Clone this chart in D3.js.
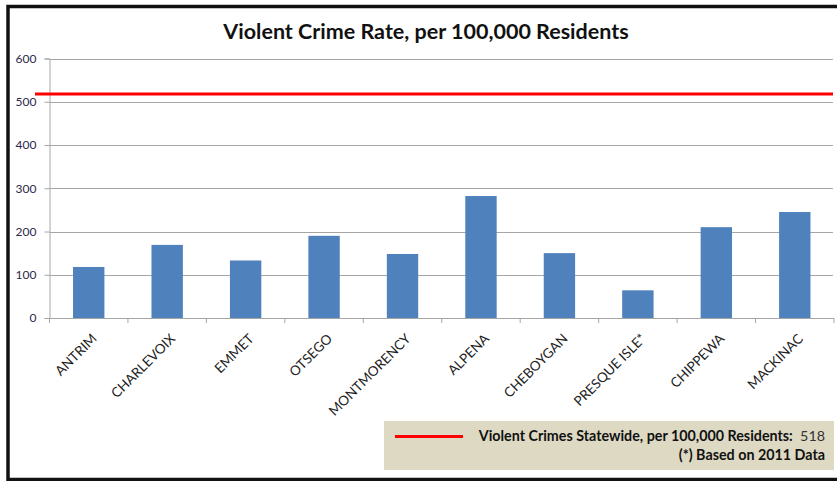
<!DOCTYPE html>
<html><head><meta charset="utf-8">
<script src="https://cdn.jsdelivr.net/npm/d3@7"></script>
<style>body{margin:0;background:#fff}svg{display:block}</style>
</head><body>
<svg id="c" width="837" height="481"></svg>
<script>
const categories = ["ANTRIM","CHARLEVOIX","EMMET","OTSEGO","MONTMORENCY","ALPENA","CHEBOYGAN","PRESQUE ISLE*","CHIPPEWA","MACKINAC"];
const crimeRates = [118, 169, 133, 190, 148, 282, 150, 64, 210, 245];
const statewideRate = [518];
const yTicks = [0, 100, 200, 300, 400, 500, 600];
const titleText = "Violent Crime Rate, per 100,000 Residents";
const legendLines = ["Violent Crimes Statewide, per 100,000 Residents:", "518", "(*) Based on 2011 Data"];

(function () {
const svg = d3.select("#c");
const font = "Lato, 'Open Sans', sans-serif";
const pLeft = 49.5, pRight = 834, pTop = 58.5, pBottom = 318;

// outer border
svg.append("rect").attr("x", 8).attr("y", 6.5).attr("width", 860).attr("height", 473)
  .attr("fill", "#fff").attr("stroke", "#111").attr("stroke-width", 3.5);

const x = d3.scaleBand().domain(categories).range([pLeft, pRight]).paddingInner(0.6).paddingOuter(0.3);
const xb = d3.scaleBand().domain(categories).range([pLeft, pRight]);
const y = d3.scaleLinear().domain([0, 600]).range([pBottom, pTop]);

// gridlines
svg.append("g").selectAll("line").data(yTicks.filter(d => d > 0)).join("line")
  .attr("x1", pLeft).attr("x2", pRight - 1).attr("y1", d => Math.round(y(d)) + 0.5).attr("y2", d => Math.round(y(d)) + 0.5)
  .attr("stroke", "#a6a6a6").attr("stroke-width", 1);

// y axis
const yAxis = svg.append("g").attr("transform", `translate(${pLeft},0)`)
  .call(d3.axisLeft(y).tickValues(yTicks).tickSize(5).tickPadding(8));
yAxis.select(".domain").attr("stroke", "#a6a6a6");
yAxis.selectAll(".tick line").attr("stroke", "#a6a6a6");
yAxis.selectAll(".tick text").attr("font-family", font).attr("font-size", 12).attr("fill", "#2a2a4a");

// bars
svg.append("g").selectAll("rect").data(categories).join("rect")
  .attr("x", d => x(d)).attr("width", x.bandwidth())
  .attr("y", (d, i) => y(crimeRates[i])).attr("height", (d, i) => y(0) - y(crimeRates[i]))
  .attr("fill", "#4f81bd");

// x axis
const xAxisG = svg.append("g").attr("transform", `translate(0,${pBottom})`);
xAxisG.append("line").attr("x1", pLeft).attr("x2", pRight).attr("y1", 0.5).attr("y2", 0.5).attr("stroke", "#a6a6a6");
const bounds = categories.map(c => xb(c)).concat([pRight]);
xAxisG.selectAll("line.t").data(bounds).join("line").attr("class", "t")
  .attr("x1", d => d).attr("x2", d => d).attr("y1", 0).attr("y2", 5).attr("stroke", "#a6a6a6");
xAxisG.selectAll("text").data(categories).join("text")
  .attr("transform", d => `translate(${xb(d) + xb.bandwidth() / 2 + 9},${21.5}) rotate(-45)`)
  .attr("text-anchor", "end").attr("font-family", font).attr("font-size", 13.5).attr("fill", "#222")
  .text(d => d);

// statewide line
svg.append("line").attr("x1", 35).attr("x2", pRight - 1)
  .attr("y1", y(statewideRate[0])).attr("y2", y(statewideRate[0]))
  .attr("stroke", "#ff0000").attr("stroke-width", 3);

// title
svg.append("text").attr("x", 426).attr("y", 39).attr("text-anchor", "middle")
  .attr("font-family", font).attr("font-weight", "bold").attr("font-size", 21.5).attr("fill", "#111")
  .text(titleText);

// legend box
const lg = svg.append("g");
lg.append("rect").attr("x", 384).attr("y", 421).attr("width", 450).attr("height", 49).attr("fill", "#ddd9c3");
lg.append("line").attr("x1", 395).attr("x2", 463).attr("y1", 436.5).attr("y2", 436.5).attr("stroke", "#ff0000").attr("stroke-width", 3);
const t1 = lg.append("text").attr("x", 825).attr("y", 441).attr("text-anchor", "end")
  .attr("font-family", font).attr("font-size", 14.3).attr("fill", "#111");
t1.append("tspan").attr("font-weight", "bold").text(legendLines[0]);
t1.append("tspan").attr("fill", "#333").text("\u00a0 " + legendLines[1]);
lg.append("text").attr("x", 825).attr("y", 460).attr("text-anchor", "end")
  .attr("font-family", font).attr("font-size", 14.3).attr("font-weight", "bold").attr("fill", "#111")
  .text(legendLines[2]);
})();
</script>
</body></html>
